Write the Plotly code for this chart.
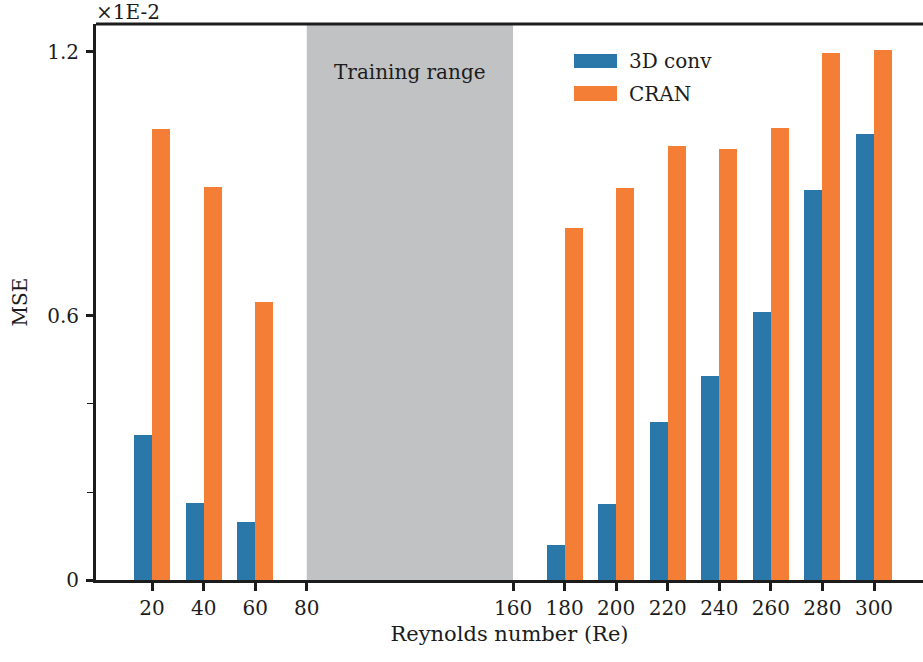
import plotly.graph_objects as go

# Reynolds numbers tested outside the training window
reynolds = [20, 40, 60, 180, 200, 220, 240, 260, 280, 300]
x_tick_vals = [20, 40, 60, 80, 160, 180, 200, 220, 240, 260, 280, 300]
x_tick_text = [str(v) for v in x_tick_vals]

# MSE values, in units of 1E-2
mse_3d_conv = [0.33, 0.175, 0.132, 0.080, 0.173, 0.359, 0.464, 0.609, 0.886, 1.014]
mse_cran = [1.025, 0.893, 0.632, 0.800, 0.891, 0.986, 0.980, 1.027, 1.198, 1.205]

series_names = ["3D conv", "CRAN"]
training_range = [80, 160]

y_major = [0, 0.6, 1.2]
y_major_text = ["0", "0.6", "1.2"]
y_minor = [0.2, 0.4]

BLUE = "#2a77aa"
ORANGE = "#f47e36"
GRAY = "#c1c2c4"
INK = "#1c1c1c"
FONT = "DejaVu Serif"
FS = 20

BAR_W = 7

fig = go.Figure()
fig.add_trace(go.Bar(x=reynolds, y=mse_3d_conv, name=series_names[0],
                     width=BAR_W, offset=-BAR_W, marker=dict(color=BLUE, line=dict(width=0)),
                     showlegend=False))
fig.add_trace(go.Bar(x=reynolds, y=mse_cran, name=series_names[1],
                     width=BAR_W, offset=0, marker=dict(color=ORANGE, line=dict(width=0)),
                     showlegend=False))

# shaded training window
fig.add_shape(type="rect", xref="x", yref="paper", x0=training_range[0], x1=training_range[1],
              y0=0, y1=1, fillcolor=GRAY, line=dict(width=0), layer="below")
fig.add_annotation(x=sum(training_range) / 2, y=1.155, xref="x", yref="y",
                   text="Training range", showarrow=False,
                   font=dict(family=FONT, size=FS, color=INK))

# legend drawn as swatches with text
L, R, T, B = 96, 923, 24, 580
def px(xp):
    return (xp - L) / (R - L)
def py(yp):
    return (B - yp) / (B - T)

for i, (name, col) in enumerate(zip(series_names, [BLUE, ORANGE])):
    y0, y1 = [(54, 68), (86, 101)][i]
    fig.add_shape(type="rect", xref="paper", yref="paper",
                  x0=px(574), x1=px(617), y0=py(y1), y1=py(y0),
                  fillcolor=col, line=dict(width=0))
    fig.add_annotation(xref="paper", yref="paper", x=px(627), y=py((y0 + y1) / 2),
                       xanchor="left", yanchor="middle", text=name, showarrow=False,
                       font=dict(family=FONT, size=FS, color=INK))

# axis scale factor
fig.add_annotation(xref="paper", yref="paper", x=px(94), y=py(12), xanchor="left",
                   yanchor="middle", text="×1E-2", showarrow=False,
                   font=dict(family=FONT, size=FS, color=INK))

fig.update_layout(
    width=923, height=662,
    margin=dict(l=L, r=923 - R, t=T, b=662 - B),
    plot_bgcolor="white", paper_bgcolor="white",
    barmode="overlay", bargap=0,
    font=dict(family=FONT, size=FS, color=INK),
    xaxis=dict(range=[-1.75, 319], tickmode="array", tickvals=x_tick_vals, ticktext=x_tick_text,
               showgrid=False, zeroline=False, showline=True, linecolor=INK, linewidth=3,
               ticks="outside", ticklen=8, tickwidth=3, tickcolor=INK,
               tickfont=dict(family=FONT, size=FS, color=INK),
               title=dict(text="Reynolds number (Re)", standoff=8,
                          font=dict(family=FONT, size=21, color=INK)),
               mirror=False),
    yaxis=dict(range=[0, 1.2636], tickmode="array", tickvals=y_major, ticktext=y_major_text,
               showgrid=False, zeroline=False, showline=True, linecolor=INK, linewidth=3,
               ticks="outside", ticklen=7, tickwidth=3, tickcolor=INK,
               ticklabelstandoff=3,
               tickfont=dict(family=FONT, size=FS, color=INK),
               minor=dict(tickmode="array", tickvals=y_minor, ticks="outside", ticklen=6,
                          tickwidth=1, tickcolor=INK, showgrid=False),
               title=dict(text="MSE", standoff=15,
                          font=dict(family=FONT, size=FS, color=INK))),
)

# top frame line
fig.add_shape(type="line", xref="paper", yref="paper", x0=0, x1=1, y0=1, y1=1,
              line=dict(color=INK, width=3))

fig.write_html("out.html")
